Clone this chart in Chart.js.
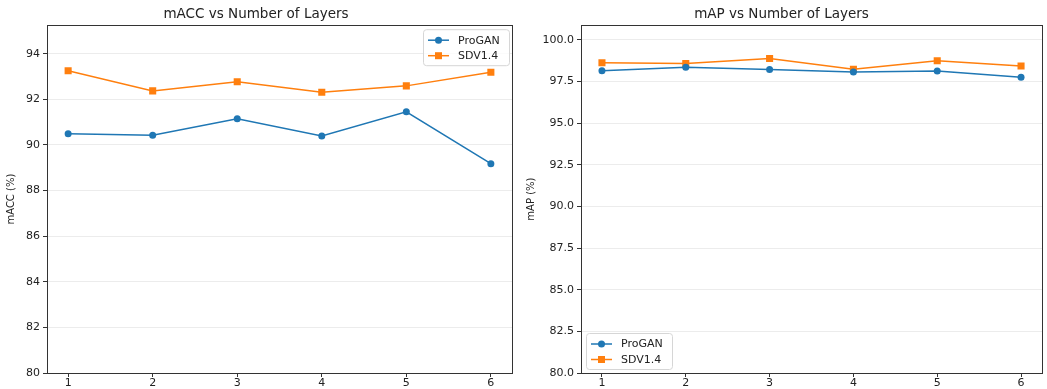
<!DOCTYPE html>
<html>
<head>
<meta charset="utf-8">
<script src="https://cdn.jsdelivr.net/npm/chart.js@4.4.1/dist/chart.umd.min.js"></script>
<style>
  body { margin: 0; background: #fff; }
  .panel { position: absolute; top: 0; }
</style>
</head>
<body>
<div class="panel" style="left:0"><canvas id="accChart" width="520" height="389"></canvas></div>
<div class="panel" style="left:520px"><canvas id="apChart" width="527" height="389"></canvas></div>
<script>
// number of layers
const layers = [1, 2, 3, 4, 5, 6];

// mACC (%)
const accProGAN = [90.49, 90.43, 91.15, 90.39, 91.45, 89.18];
const accSDV = [93.25, 92.37, 92.77, 92.31, 92.59, 93.19];

// mAP (%)
const apProGAN = [98.13, 98.35, 98.21, 98.06, 98.12, 97.74];
const apSDV = [98.62, 98.57, 98.87, 98.22, 98.74, 98.42];

const accTicks = [80, 82, 84, 86, 88, 90, 92, 94];
const apTicks = [80, 82.5, 85, 87.5, 90, 92.5, 95, 97.5, 100];

const BLUE = "#1f77b4";
const ORANGE = "#ff7f0e";
const FONT = "'DejaVu Sans', sans-serif";

// draw the box around the plot area and the matplotlib-like legend
const framePlugin = {
  id: "frame",
  afterDraw(chart, args, opts) {
    const { ctx, chartArea: a } = chart;
    ctx.save();
    ctx.strokeStyle = "#333";
    ctx.lineWidth = 1;
    ctx.strokeRect(Math.round(a.left) + 0.5, Math.round(a.top) + 0.5,
      Math.round(a.right - a.left), Math.round(a.bottom - a.top));

    // legend
    const w = 86, h = 36;
    let x, y;
    if (opts.corner === "ur") {
      x = a.right - w - 3;
      y = a.top + 4;
    } else {
      x = a.left + 5;
      y = a.bottom - h - 4;
    }
    ctx.fillStyle = "rgba(255,255,255,0.8)";
    ctx.strokeStyle = "#d6d6d6";
    ctx.beginPath();
    ctx.roundRect(x + 0.5, y + 0.5, w, h, 3);
    ctx.fill();
    ctx.stroke();
    chart.data.datasets.forEach((ds, i) => {
      const cy = y + 11 + i * 15.5;
      ctx.strokeStyle = ds.borderColor;
      ctx.lineWidth = 1.5;
      ctx.beginPath();
      ctx.moveTo(x + 5, cy);
      ctx.lineTo(x + 26, cy);
      ctx.stroke();
      ctx.fillStyle = ds.borderColor;
      ctx.beginPath();
      if (ds.pointStyle === "rect") {
        ctx.rect(x + 15.5 - 3.5, cy - 3.5, 7, 7);
      } else {
        ctx.arc(x + 15.5, cy, 3.5, 0, Math.PI * 2);
      }
      ctx.fill();
      ctx.fillStyle = "#222";
      ctx.font = "11px " + FONT;
      ctx.textBaseline = "middle";
      ctx.textAlign = "left";
      ctx.fillText(ds.label, x + 35, cy + 0.5);
    });
    ctx.restore();
  }
};

function makeChart(id, title, yLabel, proGAN, sdv, yTicks, yMax, yWidth, rightPad, corner, decimals) {
  const ctx = document.getElementById(id).getContext("2d");
  return new Chart(ctx, {
    type: "line",
    data: {
      datasets: [
        {
          label: "ProGAN",
          data: layers.map((l, i) => ({ x: l, y: proGAN[i] })),
          borderColor: BLUE,
          backgroundColor: BLUE,
          borderWidth: 1.5,
          pointStyle: "circle",
          pointRadius: 3.5,
          pointBorderWidth: 0,
        },
        {
          label: "SDV1.4",
          data: layers.map((l, i) => ({ x: l, y: sdv[i] })),
          borderColor: ORANGE,
          backgroundColor: ORANGE,
          borderWidth: 1.5,
          pointStyle: "rect",
          pointRadius: 5,
          pointBorderWidth: 0,
        },
      ],
    },
    options: {
      responsive: false,
      animation: false,
      layout: { padding: { top: 0, right: rightPad, left: 0, bottom: 0 } },
      plugins: {
        legend: { display: false },
        tooltip: { enabled: false },
        title: {
          display: true,
          text: title,
          color: "#222",
          font: { family: FONT, size: 13.5, weight: "normal" },
          padding: { top: 6, bottom: 3 },
        },
        frame: { corner: corner },
      },
      scales: {
        x: {
          type: "linear",
          min: 0.75,
          max: 6.25,
          afterBuildTicks: (s) => { s.ticks = layers.map((v) => ({ value: v })); },
          afterFit: (s) => { s.height = 16; },
          grid: { drawOnChartArea: false, tickLength: 4, color: "#333" },
          border: { display: false },
          ticks: { color: "#222", font: { family: FONT, size: 11 }, padding: 0, maxRotation: 0 },
        },
        y: {
          min: 80,
          max: yMax,
          afterBuildTicks: (s) => { s.ticks = yTicks.map((v) => ({ value: v })); },
          afterFit: (s) => { s.width = yWidth; },
          grid: {
            color: "#ececec",
            tickColor: "#333",
            tickLength: 4,
          },
          border: { display: false },
          title: {
            display: true,
            text: yLabel,
            color: "#222",
            font: { family: FONT, size: 10 },
            padding: { top: 5, bottom: 0 },
          },
          ticks: {
            color: "#222",
            font: { family: FONT, size: 11 },
            padding: 3,
            callback: (v) => v.toFixed(decimals),
          },
        },
      },
    },
    plugins: [framePlugin],
  });
}

makeChart("accChart", "mACC vs Number of Layers", "mACC (%)", accProGAN, accSDV,
  accTicks, 95.25, 47, 8, "ur", 0);
makeChart("apChart", "mAP vs Number of Layers", "mAP (%)", apProGAN, apSDV,
  apTicks, 100.87, 61, 4, "ll", 1);
</script>
</body>
</html>
